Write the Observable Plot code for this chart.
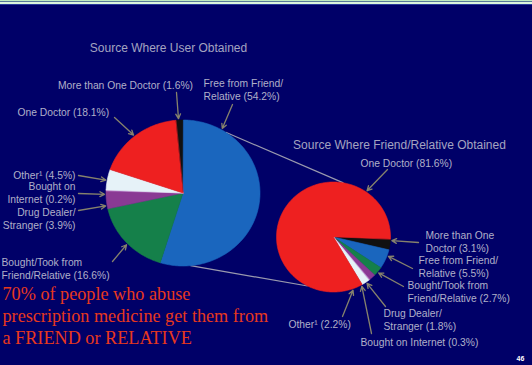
<!DOCTYPE html>
<html><head><meta charset="utf-8">
<script src="https://cdn.jsdelivr.net/npm/d3@7"></script>
<script src="https://cdn.jsdelivr.net/npm/@observablehq/plot@0.6"></script>
<style>
html,body{margin:0;padding:0;background:#000068;width:532px;height:365px;overflow:hidden}
#strip{position:absolute;left:0;top:0;width:532px;height:5px;background:linear-gradient(#c0ecc0 0,#c0ecc0 1px,#5a7a9a 1px,#5a7a9a 2px,#dcf6dc 2px,#dcf6dc 4px,#2a3a9a 4px,#2a3a9a 5px)}
#chart{position:absolute;left:0;top:0}
</style></head><body>
<div id="chart"></div><div id="strip"></div>
<script>
// ---------- data ----------
const categories = ["More than One Doctor","Free from Friend/Relative","Bought/Took from Friend/Relative","Drug Dealer/Stranger","Bought on Internet","Other¹","One Doctor"];
const userValues = [1.6, 54.2, 16.6, 3.9, 0.2, 4.5, 18.1];
const friendValues = [3.1, 5.5, 2.7, 1.8, 0.3, 2.2, 81.6];
const userLabelText = ["More than One Doctor","Free from Friend/\nRelative","Bought/Took from\nFriend/Relative","Drug Dealer/\nStranger","Bought on\nInternet","Other¹","One Doctor"];
const friendLabelText = ["More than One\nDoctor","Free from Friend/\nRelative","Bought/Took from\nFriend/Relative","Drug Dealer/\nStranger","Bought on Internet","Other¹","One Doctor"];
const pieTitles = ["Source Where User Obtained","Source Where Friend/Relative Obtained"];
const headline = ["70% of people who abuse","prescription medicine get them from","a FRIEND or RELATIVE"];
const pageNumber = "46";

// ---------- styles ----------
const sliceColors = ["#111111","#1a66be","#15804a","#8a3a94","#c98fd0","#e6f2f8","#ee2020"];
const labelColor = "#b0b0c8";
const arrowColor = "#86826c";

// ---------- layout ----------
const W = 532, H = 365;
const pies = [
  {cx:182.5, cy:192.5, rx:77, ry:73, start:-5.5},
  {cx:333, cy:236.5, rx:57, ry:55, start:92}
];
// label anchor (x,y), text anchor, arrow tip angle on pie (deg), arrow tail (tx,ty)
const userLayout = [
  {x:125, y:84,  a:"middle", tip:-3.3, tx:176, ty:92},
  {x:203, y:89,  a:"start",  tip:30,   tx:232, ty:104},
  {x:1,   y:268, a:"start",  tip:226,  tx:112, ty:261},
  {x:75,  y:218, a:"end",    tip:260,  tx:78,  ty:210},
  {x:75,  y:192, a:"end",    tip:269,  tx:78,  ty:193},
  {x:75,  y:174, a:"end",    tip:280,  tx:78,  ty:175},
  {x:17,  y:111, a:"start",  tip:321,  tx:114, ty:117}
];
const friendLayout = [
  {x:425, y:241, a:"start", tip:93.7,  tx:418, ty:242},
  {x:418, y:266, a:"start", tip:110,   tx:412, ty:268},
  {x:407, y:291, a:"start", tip:129.5, tx:403, ty:286},
  {x:383, y:319, a:"start", tip:145,   tx:385, ty:306},
  {x:360, y:341, a:"start", tip:151,   tx:371, ty:333},
  {x:288, y:323, a:"start", tip:160.5, tx:342, ty:316},
  {x:360, y:162, a:"start", tip:35,    tx:387, ty:169}
];
const titleLayout = [{x:168, y:48},{x:399, y:145}];
const headlineLayout = {x:2, y0:294, dy:22};
// connector lines: angle on user pie -> angle on friend pie
const connectors = [{a0:33.7, a1:10},{a0:174.4, a1:207}];

// ---------- geometry helpers ----------
const rad = d => d * Math.PI / 180;
function onPie(p, angRad, extra = 0) {
  return [p.cx + (p.rx + extra) * Math.sin(angRad), p.cy - (p.ry + extra) * Math.cos(angRad)];
}
function slicePolys(values, p) {
  const arcs = d3.pie().sort(null).value(d => d)
    .startAngle(rad(p.start)).endAngle(rad(p.start) + 2 * Math.PI)(values);
  return arcs.map((arc, i) => {
    const pts = [{x:p.cx, y:p.cy}];
    const n = Math.max(2, Math.ceil((arc.endAngle - arc.startAngle) / rad(1)));
    for (let k = 0; k <= n; k++) {
      const a = arc.startAngle + (arc.endAngle - arc.startAngle) * k / n;
      const [x, y] = onPie(p, a);
      pts.push({x, y});
    }
    return {i, pts};
  });
}
function labelRows(values, texts, layout, p) {
  return values.map((v, i) => {
    const L = layout[i];
    const [px, py] = onPie(p, rad(L.tip), 1.5);
    return {text: `${texts[i]} (${v}%)`, x:L.x, y:L.y, a:L.a, tx:L.tx, ty:L.ty, px, py};
  });
}

const userSlices = slicePolys(userValues, pies[0]);
const friendSlices = slicePolys(friendValues, pies[1]);
const userRows = labelRows(userValues, userLabelText, userLayout, pies[0]);
const friendRows = labelRows(friendValues, friendLabelText, friendLayout, pies[1]);
const connRows = connectors.map(c => {
  const [x1, y1] = onPie(pies[0], rad(c.a0));
  const [x2, y2] = onPie(pies[1], rad(c.a1));
  return {x1, y1, x2, y2};
});

const marks = [];
marks.push(Plot.link(connRows, {x1:"x1", y1:"y1", x2:"x2", y2:"y2", stroke:"#9a9aae", strokeWidth:1.2}));
for (const s of [...userSlices, ...friendSlices]) {
  marks.push(Plot.line(s.pts, {x:"x", y:"y", curve:"linear-closed", fill:sliceColors[s.i], stroke:sliceColors[s.i], strokeWidth:0.6}));
}
for (const rows of [userRows, friendRows]) {
  marks.push(Plot.arrow(rows, {x1:"tx", y1:"ty", x2:"px", y2:"py", stroke:arrowColor, strokeWidth:1.3, headLength:6, headAngle:55}));
  for (const anchor of ["start","middle","end"]) {
    marks.push(Plot.text(rows.filter(r => r.a === anchor), {x:"x", y:"y", text:"text", textAnchor:anchor, fill:labelColor, fontSize:10.3, lineHeight:1.25, fontFamily:"Liberation Sans, Arial, sans-serif"}));
  }
}
marks.push(Plot.text(pieTitles.map((t, i) => ({t, ...titleLayout[i]})), {x:"x", y:"y", text:"t", fill:"#a4a4c0", fontSize:12, fontFamily:"Liberation Sans, Arial, sans-serif"}));
marks.push(Plot.text(headline.map((t, i) => ({t, x:headlineLayout.x, y:headlineLayout.y0 + i * headlineLayout.dy})),
  {x:"x", y:"y", text:"t", textAnchor:"start", fill:"#e8381c", fontSize:18.2, fontFamily:"Liberation Serif, Times New Roman, serif"}));
marks.push(Plot.text([pageNumber], {x:W - 12, y:H - 7, text:d => d, fill:"#ffffff", fontSize:7, fontWeight:"bold", fontFamily:"Liberation Sans, Arial, sans-serif"}));

const chart = Plot.plot({
  width: W, height: H,
  margin: 0,
  x: {domain:[0, W], range:[0, W], axis:null},
  y: {domain:[0, H], range:[0, H], axis:null},
  style: {background:"transparent", overflow:"visible"},
  marks
});
document.getElementById("chart").appendChild(chart);
</script></body></html>
